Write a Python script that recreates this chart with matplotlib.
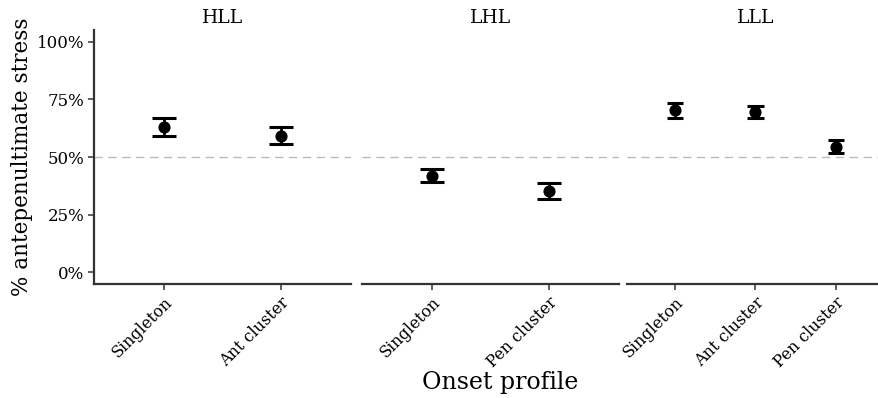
import matplotlib.pyplot as plt
import numpy as np

plt.rcParams['font.family'] = ['DejaVu Serif']

# facet panels and categories
panels = ['HLL', 'LHL', 'LLL']
categories = [
    ['Singleton', 'Ant cluster'],
    ['Singleton', 'Pen cluster'],
    ['Singleton', 'Ant cluster', 'Pen cluster'],
]
# mean proportion of antepenultimate stress with CI bounds
means = [[0.630, 0.593], [0.418, 0.352], [0.703, 0.693, 0.544]]
lowers = [[0.591, 0.555], [0.390, 0.317], [0.671, 0.668, 0.516]]
uppers = [[0.668, 0.630], [0.447, 0.387], [0.732, 0.720, 0.573]]
yticks = [0, 0.25, 0.5, 0.75, 1.0]
ytick_labels = ['0%', '25%', '50%', '75%', '100%']

W, H = 879, 398
fig = plt.figure(figsize=(W / 100, H / 100), dpi=100)

lefts = [94, 362, 627]
pw = 257
top, bottom = 30, 284
axline = '#333333'

for i, name in enumerate(panels):
    ax = fig.add_axes([lefts[i] / W, 1 - bottom / H, pw / W, (bottom - top) / H])
    cats = categories[i]
    x = np.arange(1, len(cats) + 1)
    ax.axhline(0.5, color='#bbbbbb', lw=1, ls=(0, (6, 4)), zorder=1)
    ax.vlines(x, lowers[i], uppers[i], color='black', lw=2, zorder=2)
    ax.hlines(lowers[i], x - 0.1, x + 0.1, color='black', lw=2.2, zorder=2)
    ax.hlines(uppers[i], x - 0.1, x + 0.1, color='black', lw=2.2, zorder=2)
    ax.scatter(x, means[i], s=60, color='black', zorder=3)
    ax.set_xlim(0.4, len(cats) + 0.6)
    ax.set_ylim(-0.05, 1.05)
    ax.set_xticks(x)
    ax.set_xticklabels(cats, rotation=45, ha='right', va='top',
                       rotation_mode='anchor', fontsize=11.5)
    for s in ['top', 'right']:
        ax.spines[s].set_visible(False)
    ax.spines['bottom'].set_color(axline)
    ax.spines['bottom'].set_linewidth(1.6)
    ax.spines['left'].set_color(axline)
    ax.spines['left'].set_linewidth(1.6)
    ax.tick_params(axis='both', length=4, width=1.1, color=axline, pad=3)
    if i == 0:
        ax.set_yticks(yticks)
        ax.set_yticklabels(ytick_labels, fontsize=12)
        ax.set_ylabel('% antepenultimate stress', fontsize=15.5, labelpad=3)
    else:
        ax.spines['left'].set_visible(False)
        ax.set_yticks([])
    ax.set_title(name, fontsize=13.5, pad=5)

fig.text(500 / W, 1 - 383 / H, 'Onset profile', ha='center', va='center', fontsize=17)

fig.savefig('out.png', dpi=100)
